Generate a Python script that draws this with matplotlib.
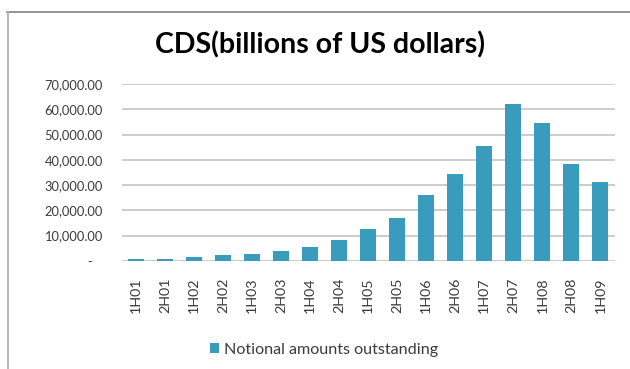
import matplotlib
matplotlib.use("Agg")
import matplotlib.pyplot as plt
from matplotlib.lines import Line2D
from matplotlib.patches import Patch

plt.rcParams['font.family'] = ['Lato', 'DejaVu Sans']

# ISDA survey, CDS notional amounts outstanding (billions of US dollars)
periods = ['1H01', '2H01', '1H02', '2H02', '1H03', '2H03', '1H04', '2H04', '1H05',
           '2H05', '1H06', '2H06', '1H07', '2H07', '1H08', '2H08', '1H09']
notional = [631.5, 918.87, 1563.48, 2191.57, 2687.91, 3779.40, 5441.86, 8422.26,
            12429.88, 17096.14, 26005.94, 34422.80, 45464.50, 62173.20, 54611.82,
            38563.82, 31223.10]
y_ticks = [0, 10000, 20000, 30000, 40000, 50000, 60000, 70000]
# accounting style: zero shown as a dash, padded like the other labels
y_labels = ['-   '] + [f'{v:,.2f}' for v in y_ticks[1:]]

bar_color = '#3a9cbc'
grid_color = '#c4c4c4'
text_color = '#3a3a3a'

fig = plt.figure(figsize=(6.3, 3.69), dpi=100)
ax = fig.add_axes([0.193, 0.293, 0.783, 0.479])

x = range(len(periods))
ax.bar(x, notional, width=0.56, color=bar_color, zorder=3, label='Notional amounts outstanding')

ax.set_xlim(-0.5, len(periods) - 0.5)
ax.set_ylim(0, 70000)
ax.set_yticks(y_ticks)
ax.set_yticklabels(y_labels, fontsize=9.3, color=text_color)
ax.set_xticks(list(x))
ax.set_xticklabels(periods, rotation=90, fontsize=10.3, color=text_color)
ax.tick_params(axis='y', length=0, pad=13.5)
ax.tick_params(axis='x', length=0, pad=12)

for v in y_ticks:
    ax.axhline(v, color=grid_color, linewidth=1.2, zorder=1)
for side in ax.spines.values():
    side.set_visible(False)

fig.text(320 / 630, 1 - 45 / 369, 'CDS(billions of US dollars)', ha='center', va='center',
         fontsize=20.5, fontweight='bold', color='black')

# legend below the category labels
handle = Patch(facecolor=bar_color, edgecolor='none')
fig.legend([handle], ['Notional amounts outstanding'], loc='center',
           bbox_to_anchor=(324 / 630, 1 - 350 / 369), frameon=False, fontsize=11.6,
           handlelength=0.55, handleheight=0.55, handletextpad=0.35, labelcolor=text_color)

# chart frame (top and left edges)
fig.add_artist(Line2D([7 / 630, 1], [1 - 12 / 369, 1 - 12 / 369], color='#8a8a8a',
                      linewidth=1.3, transform=fig.transFigure))
fig.add_artist(Line2D([8 / 630, 8 / 630], [0, 1 - 12 / 369], color='#b0b0b0',
                      linewidth=1.3, transform=fig.transFigure))

fig.savefig('out.png', dpi=100)
